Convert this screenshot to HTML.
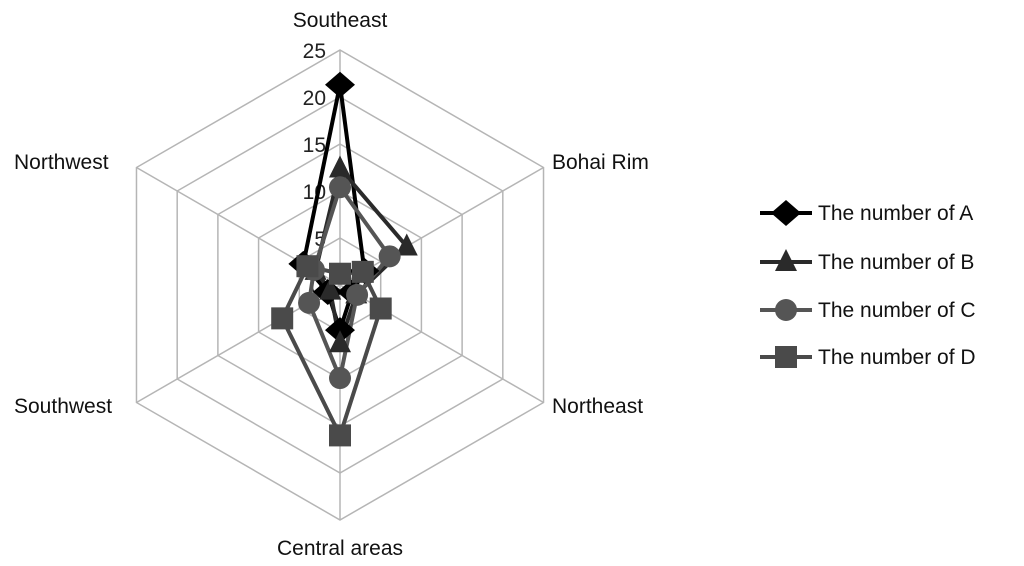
<!DOCTYPE html>
<html><head><style>
html,body{margin:0;padding:0;background:#fff;}
svg{display:block;font-family:"Liberation Sans",sans-serif;}
</style></head><body>
<svg id="s" width="1024" height="566" viewBox="0 0 1024 566" xmlns="http://www.w3.org/2000/svg">
<rect width="1024" height="566" fill="#fff"/>
<g id="grid" stroke="#b5b5b5" stroke-width="1.5" fill="none"></g>
<g font-size="21" fill="#222" text-anchor="end">
<text x="326" y="58">25</text><text x="326" y="105">20</text><text x="326" y="152">15</text>
<text x="326" y="199">10</text><text x="326" y="246">5</text><text x="322" y="293">0</text>
</g>
<g font-size="21" fill="#111">
<text x="340" y="27" text-anchor="middle">Southeast</text>
<text x="552" y="169">Bohai Rim</text>
<text x="552" y="413">Northeast</text>
<text x="340" y="555" text-anchor="middle">Central areas</text>
<text x="14" y="413">Southwest</text>
<text x="14" y="169">Northwest</text>
</g>
<g id="data"></g>
<g id="legend" font-size="21" fill="#111"></g>
</svg>
<script>
var cx=340,cy=285,R=235,ns="http://www.w3.org/2000/svg";
function pt(i,v){var a=-Math.PI/2+i*Math.PI/3,r=v/25*R;return [cx+r*Math.cos(a),cy+r*Math.sin(a)];}
var g=document.getElementById('grid');
function el(t,at,p){var e=document.createElementNS(ns,t);for(var k in at)e.setAttribute(k,at[k]);p.appendChild(e);return e;}
for(var l=5;l<=25;l+=5){var ps=[];for(var i=0;i<6;i++)ps.push(pt(i,l).join(','));el('polygon',{points:ps.join(' ')},g);}
for(var i=0;i<6;i++){var p=pt(i,25);el('line',{x1:cx,y1:cy,x2:p[0],y2:p[1]},g);}
var series=[
 {c:'#000',m:'d',v:[21.3,3,1.5,4.8,1.5,4.5]},
 {c:'#2a2a2a',m:'t',v:[12.4,8.2,2,6.2,1.2,3]},
 {c:'#555',m:'c',v:[10.4,6.1,2.1,9.9,3.8,3.2]},
 {c:'#4a4a4a',m:'s',v:[1.2,2.8,5.0,16,7.1,4]}];
var d=document.getElementById('data');
function marker(m,x,y,c,p){
 if(m=='d')el('polygon',{points:[x,y-13,x+15,y,x,y+13,x-15,y].join(' '),fill:c},p);
 if(m=='t')el('polygon',{points:[x,y-13,x+11,y+9,x-11,y+9].join(' '),fill:c},p);
 if(m=='c')el('circle',{cx:x,cy:y,r:11,fill:c},p);
 if(m=='s')el('rect',{x:x-11,y:y-11,width:22,height:22,fill:c},p);
}
series.forEach(function(s){var ps=[];for(var i=0;i<6;i++)ps.push(pt(i,s.v[i]).join(','));
 el('polygon',{points:ps.join(' '),fill:'none',stroke:s.c,'stroke-width':4,'stroke-linejoin':'round'},d);});
series.forEach(function(s){for(var i=0;i<6;i++){var p=pt(i,s.v[i]);marker(s.m,p[0],p[1],s.c,d);}});
var lg=document.getElementById('legend'),names=['A','B','C','D'],ys=[213,262,310,357];
series.forEach(function(s,k){var y=ys[k];el('line',{x1:760,y1:y,x2:812,y2:y,stroke:s.c,'stroke-width':4},lg);
 marker(s.m,786,y,s.c,lg);var t=el('text',{x:818,y:y+7},lg);t.textContent='The number of '+names[k];});
</script>
</body></html>
